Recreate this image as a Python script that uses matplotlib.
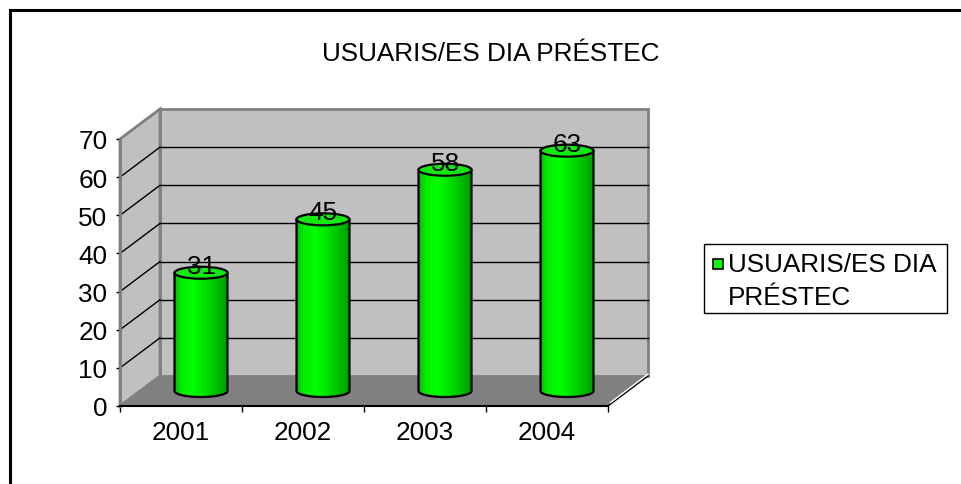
import matplotlib
matplotlib.use('Agg')
import numpy as np
import matplotlib.pyplot as plt
from matplotlib.patches import Polygon, Ellipse, Rectangle, PathPatch
from matplotlib.path import Path
from matplotlib.lines import Line2D
from matplotlib.colors import LinearSegmentedColormap

years = ['2001', '2002', '2003', '2004']
users = [31, 45, 58, 63]
y_ticks = [0, 10, 20, 30, 40, 50, 60, 70]
title = 'USUARIS/ES DIA PRÉSTEC'
series_name = 'USUARIS/ES DIA\nPRÉSTEC'

plt.rcParams['font.family'] = ['Liberation Sans', 'DejaVu Sans']

W, H = 962, 485
FS = 18.8
WALL = '#c0c0c0'
FLOOR = '#808080'
EDGE = '#808080'

fig = plt.figure(figsize=(W / 100, H / 100), dpi=100)
ax = fig.add_axes([120 / W, 78 / H, 488 / W, 267 / H])
ax.patch.set_visible(False)

n = len(years)
top = y_ticks[-1]
# depth of the 3d box, in data units (about 40 px right, 30 px up)
dx = 40 / (488 / n)
dy = 30 / (267 / top)

side = Polygon([(0, 0), (0, top), (dx, top + dy), (dx, dy)], closed=True,
               fc=WALL, ec=EDGE, lw=2, clip_on=False, zorder=1)
back = Polygon([(dx, dy), (n + dx, dy), (n + dx, top + dy), (dx, top + dy)], closed=True,
               fc=WALL, ec=EDGE, lw=2, clip_on=False, zorder=1)
floor = Polygon([(0, 0), (n, 0), (n + dx, dy), (dx, dy)], closed=True,
                fc=FLOOR, ec='none', clip_on=False, zorder=2)
for p in (side, back, floor):
    ax.add_patch(p)
ax.plot([n, n + dx], [0, dy], color='black', lw=1, clip_on=False, zorder=2)
ax.plot([n + 0.02, n + dx], [0.9, dy + 0.5], color='white', lw=1, clip_on=False, zorder=2)

# gridlines on side and back walls
for v in y_ticks[1:-1]:
    ax.plot([0, dx], [v, v + dy], color='black', lw=1, clip_on=False, zorder=1.5)
    ax.plot([dx, n + dx], [v + dy, v + dy], color='black', lw=1, clip_on=False, zorder=1.5)

# cylinders
cw = 0.434
eh = 12 / (267 / top)
green = LinearSegmentedColormap.from_list('cyl', [
    (0.0, '#00c000'), (0.12, '#00ee00'), (0.35, '#00ff00'),
    (0.6, '#00dd00'), (0.85, '#00b400'), (1.0, '#009a00')])
grad = np.linspace(0, 1, 200).reshape(1, -1)
t = np.linspace(np.pi, 2 * np.pi, 60)
for i, v in enumerate(users):
    cx = i + 0.5 + dx / 2
    base = dy / 2
    ytop = v + dy / 2
    x0, x1 = cx - cw / 2, cx + cw / 2
    arc = np.column_stack([cx - cw / 2 * np.cos(t - np.pi), base + eh / 2 * np.sin(t)])
    verts = [(x0, ytop)] + list(map(tuple, arc)) + [(x1, ytop), (x0, ytop)]
    body = PathPatch(Path(verts, closed=True), fc='none', ec='black', lw=1.6,
                     clip_on=False, zorder=4)
    ax.add_patch(body)
    im = ax.imshow(grad, cmap=green, aspect='auto', extent=(x0, x1, base - eh, ytop),
                   zorder=3, interpolation='bilinear')
    im.set_clip_path(body)
    ax.add_patch(Ellipse((cx, ytop), cw, eh, fc='#11ea11', ec='black', lw=1.6,
                         clip_on=False, zorder=5))
    ax.text(cx, ytop + 1.8, str(v), ha='center', va='center', fontsize=FS, zorder=6)
ax.set_xlim(0, n)
ax.set_ylim(0, top)

# axes
for s in ('top', 'right'):
    ax.spines[s].set_visible(False)
ax.spines['left'].set_color(EDGE)
ax.spines['left'].set_linewidth(2)
ax.spines['bottom'].set_color('black')
ax.spines['bottom'].set_linewidth(1.5)
ax.spines['left'].set_zorder(2.5)
ax.spines['bottom'].set_zorder(2.5)
ax.set_yticks(y_ticks)
ax.set_yticklabels([str(v) for v in y_ticks], fontsize=FS)
ax.tick_params(axis='y', length=3, width=1, pad=6, color='black')
ax.set_xticks(range(n + 1))
ax.set_xticklabels([])
ax.set_xticks([i + 0.5 for i in range(n)], minor=True)
ax.set_xticklabels(years, minor=True, fontsize=FS)
ax.tick_params(axis='x', which='major', length=4, width=1, color='black')
ax.tick_params(axis='x', which='minor', length=0, pad=10)

fig.text(491 / W, 1 - 54 / H, title, ha='center', va='center', fontsize=FS)

# legend
fig.add_artist(Rectangle((704 / W, 1 - 314 / H), 243 / W, 69 / H, transform=fig.transFigure,
                         fill=False, ec='black', lw=1))
fig.add_artist(Rectangle((713 / W, 1 - 270 / H), 10 / W, 10 / H, transform=fig.transFigure,
                         fc='#00ff00', ec='black', lw=1.2))
for k, line in enumerate(series_name.split('\n')):
    fig.text(728 / W, 1 - (265 + 33 * k) / H, line, ha='left', va='center', fontsize=FS)

# outer chart frame (cut by the page)
fig.add_artist(Line2D([10 / W, 10 / W], [0, 1 - 11 / H], transform=fig.transFigure,
                      color='black', lw=2.2))
fig.add_artist(Line2D([10 / W, 1], [1 - 11 / H, 1 - 11 / H], transform=fig.transFigure,
                      color='black', lw=2.2))

fig.savefig('out.png', dpi=100)
